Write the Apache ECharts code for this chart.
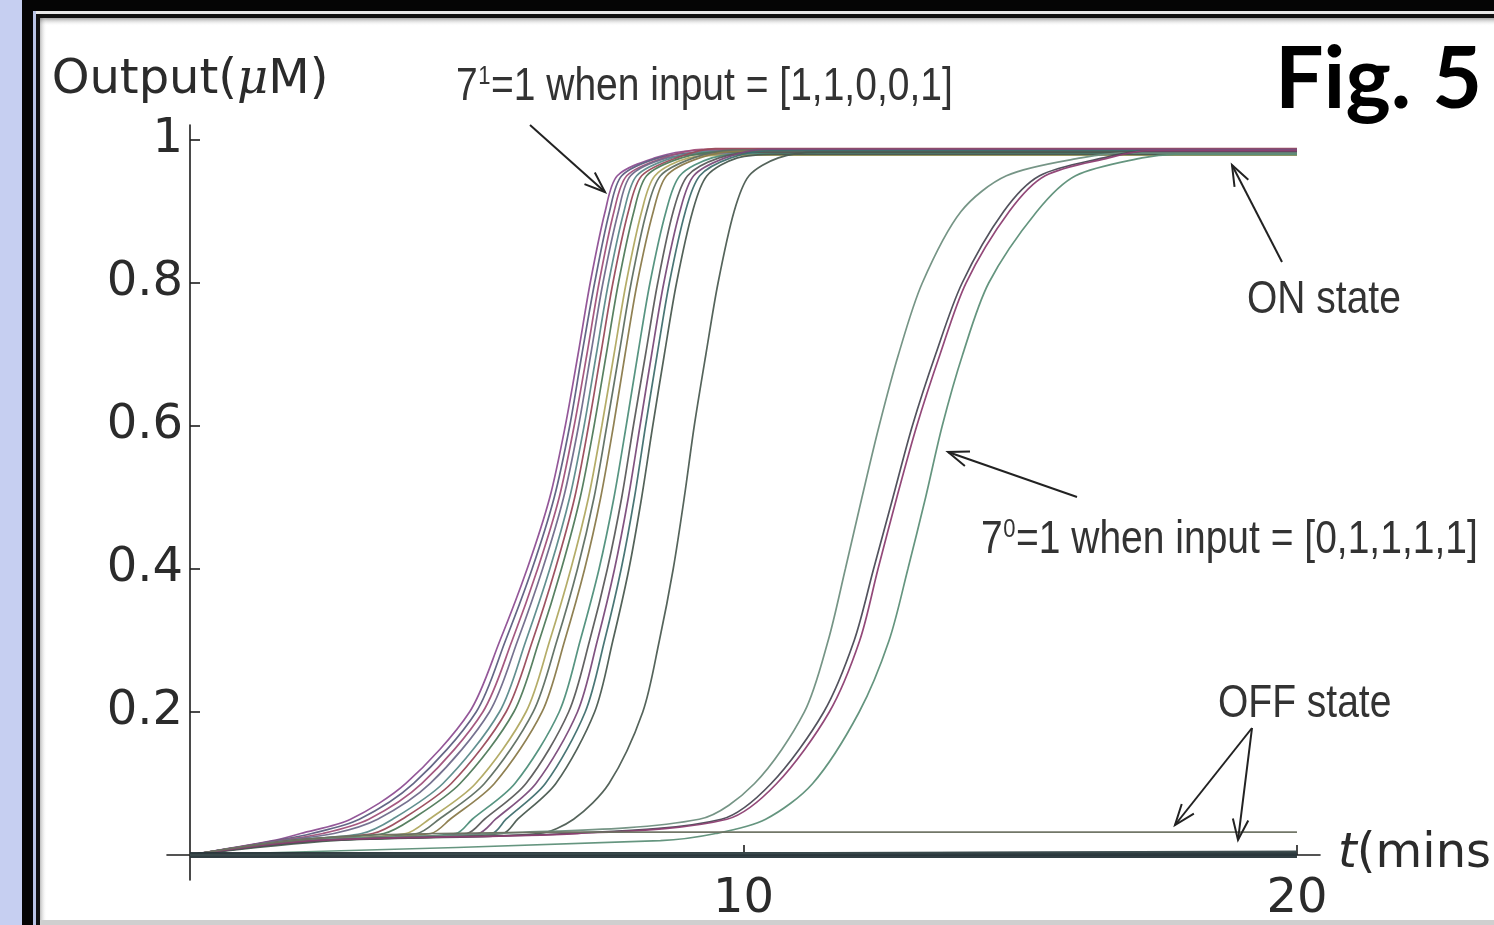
<!DOCTYPE html>
<html><head><meta charset="utf-8">
<script src="https://cdn.jsdelivr.net/npm/echarts@6/dist/echarts.min.js"></script>
<style>html,body{margin:0;padding:0;background:#fff;overflow:hidden}#c{width:1494px;height:925px}</style>
</head><body><div id="c"></div>
<script>
// ---------- DATA ----------
// Output levels (µM) at which each rising curve's crossing time (mins) was read;
// the last time in each curve is where it settles on its own plateau value (ON*_END)
const LEVELS = [0.02, 0.03, 0.05, 0.1, 0.2, 0.3, 0.4, 0.5, 0.6, 0.7, 0.8, 0.9, 0.95, 0.975];
const T_END = 20;
// Group 1: 7^1 = 1 when input = [1,1,0,0,1] (early ON curves)
const on1_01 = [1.5, 2.0, 2.90, 3.90, 5.05, 5.60, 6.09, 6.50, 6.78, 7.01, 7.23, 7.50, 7.72, 8.40, 9.10];
const on1_02 = [1.55, 2.2, 3.06, 4.04, 5.17, 5.70, 6.18, 6.58, 6.86, 7.08, 7.31, 7.58, 7.80, 8.47, 9.17];
const on1_03 = [1.6, 2.4, 3.23, 4.19, 5.29, 5.82, 6.28, 6.67, 6.94, 7.17, 7.39, 7.66, 7.89, 8.55, 9.25];
const on1_04 = [1.65, 2.6, 3.39, 4.34, 5.41, 5.92, 6.37, 6.75, 7.02, 7.24, 7.46, 7.74, 7.96, 8.62, 9.32];
const on1_05 = [1.75, 3.1, 3.66, 4.57, 5.59, 6.07, 6.50, 6.86, 7.12, 7.34, 7.56, 7.84, 8.07, 8.71, 9.41];
const on1_06 = [1.8, 3.3, 3.83, 4.72, 5.71, 6.19, 6.60, 6.95, 7.20, 7.42, 7.64, 7.92, 8.16, 8.79, 9.49];
const on1_07 = [1.85, 3.5, 4.01, 4.88, 5.85, 6.31, 6.71, 7.05, 7.30, 7.52, 7.74, 8.02, 8.25, 8.88, 9.58];
const on1_08 = [1.95, 3.9, 4.32, 5.16, 6.07, 6.50, 6.88, 7.20, 7.44, 7.66, 7.88, 8.16, 8.40, 9.01, 9.71];
const on1_09 = [2.0, 4.1, 4.50, 5.32, 6.20, 6.63, 7.00, 7.30, 7.53, 7.75, 7.97, 8.25, 8.50, 9.10, 9.80];
const on1_10 = [2.05, 4.35, 4.70, 5.50, 6.36, 6.77, 7.13, 7.42, 7.65, 7.86, 8.08, 8.37, 8.61, 9.21, 9.91];
const on1_11 = [2.15, 4.8, 5.10, 5.87, 6.67, 7.05, 7.39, 7.66, 7.88, 8.09, 8.31, 8.60, 8.85, 9.43, 10.13];
const on1_12 = [2.2, 5.0, 5.32, 6.07, 6.84, 7.22, 7.54, 7.80, 8.01, 8.23, 8.45, 8.73, 8.99, 9.56, 10.26];
const on1_13 = [2.25, 5.2, 5.52, 6.25, 7.00, 7.36, 7.67, 7.92, 8.13, 8.34, 8.56, 8.85, 9.10, 9.67, 10.37];
const on1_14 = [2.3, 5.45, 5.71, 6.42, 7.14, 7.49, 7.79, 8.03, 8.23, 8.44, 8.66, 8.95, 9.21, 9.77, 10.47];
const on1_15 = [2.35, 5.65, 5.92, 6.61, 7.31, 7.64, 7.93, 8.16, 8.36, 8.57, 8.79, 9.08, 9.34, 9.89, 10.59];
const on1_16 = [2.6, 6.3, 6.93, 7.57, 8.18, 8.48, 8.73, 8.93, 9.11, 9.32, 9.54, 9.83, 10.10, 10.63, 11.33];
const ON1_END = [0.985, 0.982, 0.987, 0.980, 0.984, 0.988, 0.983, 0.979, 0.986, 0.984, 0.981, 0.983, 0.987, 0.985, 0.980, 0.983];
// Group 2: 7^0 = 1 when input = [0,1,1,1,1] (late ON curves)
const on2_a = [2.0, 5.5, 9.2, 10.2, 11.1, 11.53, 11.84, 12.14, 12.45, 12.8, 13.23, 13.93, 14.75, 16.1, 17.0];
const on2_d = [2.3, 6.8, 9.6, 10.5, 11.45, 12.0, 12.35, 12.7, 13.05, 13.47, 13.95, 14.7, 15.35, 16.5, 17.2];
const on2_b = [2.2, 7.0, 9.7, 10.6, 11.55, 12.1, 12.43, 12.77, 13.13, 13.55, 14.02, 14.8, 15.45, 16.6, 17.3];
const on2_c = [8.5, 9.5, 10.4, 11.25, 12.09, 12.63, 12.97, 13.29, 13.59, 13.96, 14.43, 15.3, 16.0, 17.2, 17.8];
const ON2_END = [0.982, 0.984, 0.985, 0.980];
// OFF state curves
const OFF_HIGH_T = [0, 1, 2, 3, 4.5, 7, 20];
const OFF_HIGH_V = [0, 0.012, 0.021, 0.027, 0.030, 0.032, 0.032];
const OFF_LOW_T = [0, 20];
const OFF_LOW_1 = [0, 0.0];
const OFF_LOW_2 = [0, 0.003];
const OFF_LOW_3 = [0, 0.005];
// Axis ticks
const Y_TICKS = [0.2, 0.4, 0.6, 0.8, 1];
const X_TICKS = [10, 20];

// ---------- STYLE ----------
const G1 = [on1_01,on1_02,on1_03,on1_04,on1_05,on1_06,on1_07,on1_08,on1_09,on1_10,on1_11,on1_12,on1_13,on1_14,on1_15,on1_16];
const G2 = [on2_a,on2_d,on2_b,on2_c];
const G1_COL = ['#8e4f93','#5c5f80','#a0507a','#6f6a8a','#5a8a8a','#9a4a5a','#4f7a5a','#b0a860','#5e6e62','#8a7a4a','#4e8e7a','#5a5a5a','#7a4a7a','#3f6f6f','#4a5a50','#4c5c52'];
const G2_COL = ['#6f8f80','#4a4a55','#8d3f72','#5d8f78'];

function curve(ts, end) {
  const d = [[0, 0]];
  LEVELS.forEach((v, i) => d.push([ts[i], v]));
  d.push([ts[LEVELS.length], end]);
  d.push([T_END, end]);
  return d;
}
function zipTV(ts, vs) { return ts.map((t, i) => [t, vs[i]]); }

const series = [];
function addLine(data, color, width, z) {
  series.push({type:'line', data, showSymbol:false, symbol:'none', smooth:0.3,
    lineStyle:{color, width, opacity:0.95}, z: z || 2, silent:true, animation:false});
}
G1.forEach((c, i) => addLine(curve(c, ON1_END[i]), G1_COL[i], 1.7));
G2.forEach((c, i) => addLine(curve(c, ON2_END[i]), G2_COL[i], 1.7));
addLine(zipTV(OFF_HIGH_T, OFF_HIGH_V), '#6a7060', 1.6);
addLine(zipTV(OFF_LOW_T, OFF_LOW_1), '#27353a', 6, 4);
addLine(zipTV(OFF_LOW_T, OFF_LOW_2), '#2e3c40', 3, 4);
addLine(zipTV(OFF_LOW_T, OFF_LOW_3), '#3a4a4c', 2, 4);

const AX = '#1c1c1c';
const NUMFONT = {fontFamily:'DejaVu Sans', fontSize:48, color:'#2b2b2b'};

function arrow(x1, y1, x2, y2) {
  const a = Math.atan2(y2 - y1, x2 - x1), L = 22, s = 0.36;
  const st = {stroke:'#222', lineWidth:2, fill:null};
  return [
    {type:'line', shape:{x1, y1, x2, y2}, style:st, z:50},
    {type:'polyline', shape:{points:[[x2 - L*Math.cos(a - s), y2 - L*Math.sin(a - s)], [x2, y2], [x2 - L*Math.cos(a + s), y2 - L*Math.sin(a + s)]]}, style:st, z:50}
  ];
}
const ANN_FAMILY = 'Liberation Sans', ANN_SIZE = 39, SUP_SIZE = 22, ANN_SY = 1.18;
const mctx = document.createElement('canvas').getContext('2d');
function textW(s, size) { mctx.font = size + 'px "' + ANN_FAMILY + '"'; return mctx.measureText(s).width; }
function annText(x, y, text, size) {
  return {type:'text', x, y, scaleY:ANN_SY, z:50,
    style:{text, fontFamily:ANN_FAMILY, fontSize:size || ANN_SIZE, fill:'#333', align:'left', verticalAlign:'middle'}};
}
function supLabel(x, y, base, sup, rest) {
  const w1 = textW(base, ANN_SIZE), w2 = textW(sup, SUP_SIZE);
  return [annText(x, y, base), annText(x + w1 + 0.5, y - 10, sup, SUP_SIZE), annText(x + w1 + w2 + 1, y, rest)];
}

const graphic = [
  // slide frame
  {type:'rect', shape:{x:0, y:0, width:22, height:925}, style:{fill:'#c6cff1'}, z:100},
  {type:'rect', shape:{x:22, y:0, width:11, height:925}, style:{fill:'#050505'}, z:100},
  {type:'rect', shape:{x:33, y:0, width:3, height:925}, style:{fill:'#b9c4e6'}, z:100},
  {type:'rect', shape:{x:36, y:0, width:4, height:925}, style:{fill:'#111'}, z:100},
  {type:'rect', shape:{x:22, y:0, width:1472, height:11}, style:{fill:'#050505'}, z:100},
  {type:'rect', shape:{x:36, y:11, width:1458, height:3}, style:{fill:'#e8e8e8'}, z:100},
  {type:'rect', shape:{x:36, y:14, width:1458, height:4}, style:{fill:'#111'}, z:100},
  {type:'rect', shape:{x:40, y:18, width:1454, height:8}, style:{fill:new echarts.graphic.LinearGradient(0,0,0,1,[{offset:0,color:'rgba(90,90,90,0.55)'},{offset:1,color:'rgba(255,255,255,0)'}])}, z:99},
  {type:'rect', shape:{x:40, y:18, width:7, height:907}, style:{fill:new echarts.graphic.LinearGradient(0,0,1,0,[{offset:0,color:'rgba(90,90,90,0.4)'},{offset:1,color:'rgba(255,255,255,0)'}])}, z:99},
  {type:'rect', shape:{x:40, y:920, width:1454, height:5}, style:{fill:'#cfcfcf'}, z:100},
  // title
  {type:'text', x:1275, y:80, z:60, style:{text:'Fig. 5', fontFamily:'Lato', fontWeight:'bold', fontSize:86, fill:'#000', align:'left', verticalAlign:'middle'}},
  // annotations
  ...supLabel(456, 87, '7', '1', '=1 when input = [1,1,0,0,1]'),
  annText(1247, 300, 'ON state'),
  ...supLabel(981, 540, '7', '0', '=1 when input = [0,1,1,1,1]'),
  annText(1218, 704, 'OFF state'),
  ...arrow(530, 125, 605, 192),
  ...arrow(1282, 262, 1232, 165),
  ...arrow(1077, 497, 948, 452),
  ...arrow(1252, 728, 1175, 825),
  ...arrow(1252, 728, 1238, 840)
];

const chart = echarts.init(document.getElementById('c'), null, {renderer:'canvas'});
chart.setOption({
  backgroundColor:'#ffffff',
  animation:false,
  grid:{left:167, right:174, top:125, bottom:45, containLabel:false, outerBoundsMode:'none'},
  xAxis:{type:'value', min:-0.416, max:20.416,
    axisLine:{onZero:true, lineStyle:{color:AX, width:1.6}},
    axisTick:{inside:true, length:10, customValues:X_TICKS, lineStyle:{color:AX, width:1.6}},
    axisLabel:Object.assign({customValues:X_TICKS, margin:-4, formatter:v => String(v)}, NUMFONT),
    splitLine:{show:false},
    name:'{i|t}{n|(mins)}', nameLocation:'end', nameGap:18,
    nameTextStyle:{rich:{i:{fontFamily:'DejaVu Sans', fontStyle:'italic', fontSize:48, color:'#2b2b2b'}, n:{fontFamily:'DejaVu Sans', fontSize:48, color:'#2b2b2b'}}}
  },
  yAxis:{type:'value', min:-0.035, max:1.021,
    axisLine:{onZero:true, lineStyle:{color:AX, width:1.6}},
    axisTick:{inside:true, length:10, customValues:Y_TICKS, lineStyle:{color:AX, width:1.6}},
    axisLabel:Object.assign({customValues:Y_TICKS, margin:-16, formatter:v => String(+v.toFixed(1))}, NUMFONT),
    splitLine:{show:false},
    name:'{n|Output(}{m|μ}{n|M)}', nameLocation:'end', nameGap:20,
    nameTextStyle:{rich:{n:{fontFamily:'DejaVu Sans', fontSize:48, color:'#2b2b2b'}, m:{fontFamily:'DejaVu Serif', fontStyle:'italic', fontSize:48, color:'#2b2b2b'}}}
  },
  series,
  graphic
});
</script></body></html>
